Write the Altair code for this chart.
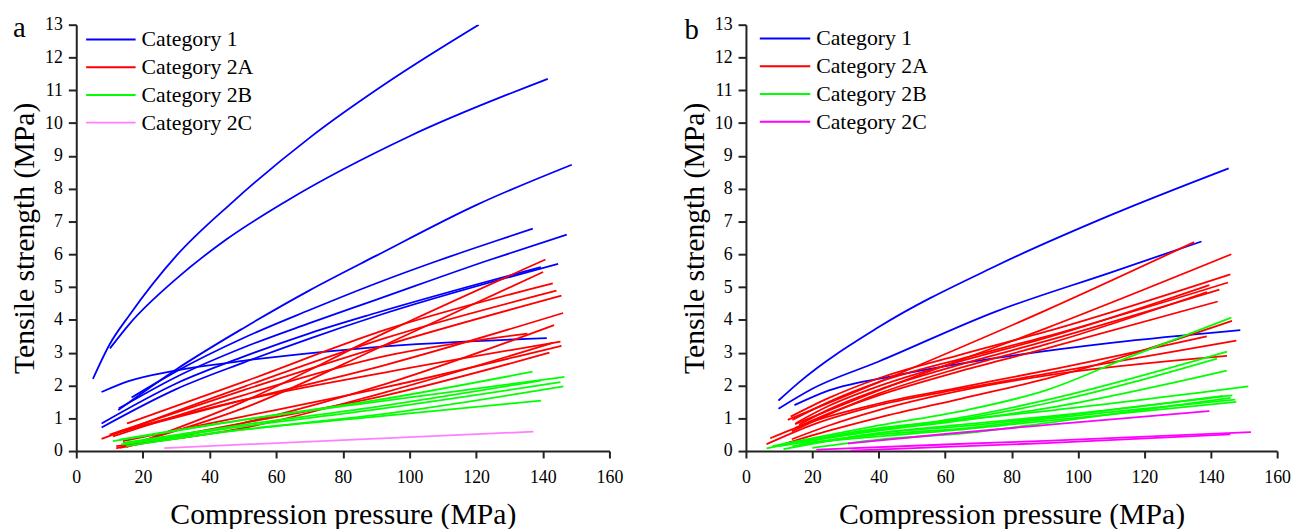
import altair as alt
import pandas as pd

FONT = "Liberation Serif"
CATS = ["Category 1", "Category 2A", "Category 2B", "Category 2C"]
COLORS_A = ["#0000FF", "#FF0000", "#00FF00", "#FF80FF"]
COLORS_B = ["#0000FF", "#FF0000", "#00FF00", "#FF00FF"]

X_TICKS = [0, 20, 40, 60, 80, 100, 120, 140, 160]
Y_TICKS = list(range(0, 14))

# ---------------- panel a ----------------
A_CAT1 = [
    [(5, 2.2), (10, 3.25), (16, 4.15), (30, 5.95), (47, 7.6), (70, 9.55), (95, 11.35), (120.8, 13.0)],
    [(10.1, 3.13), (16, 3.88), (30, 5.25), (45, 6.45), (63, 7.62), (100, 9.6), (141.5, 11.35)],
    [(12.6, 1.25), (30, 2.49), (50, 3.74), (70, 4.9), (89.9, 5.95), (120, 7.5), (148.7, 8.73)],
    [(16.6, 1.63), (30, 2.43), (50, 3.44), (70, 4.3), (89.9, 5.11), (108.7, 5.81), (126.3, 6.42), (137, 6.78)],
    [(12.8, 1.3), (30, 2.26), (50, 3.15), (70, 3.9), (89.9, 4.61), (123.5, 5.81), (147.2, 6.6)],
    [(7.6, 0.84), (30, 2.06), (50, 2.87), (70, 3.59), (89.9, 4.21), (139.4, 5.61)],
    [(7.6, 0.72), (30, 1.89), (50, 2.69), (70, 3.43), (89.9, 4.11), (144.6, 5.71)],
    [(7.6, 1.8), (15.7, 2.13), (29.6, 2.45), (50, 2.75), (76.5, 3.05), (89.9, 3.17), (141.2, 3.44)],
]
A_CAT2A = [
    [(15.2, 0.84), (50, 2.1), (92.9, 3.70), (143, 5.11)],
    [(7.6, 0.37), (50, 1.95), (92.9, 3.45), (144.1, 4.89)],
    [(10, 0.5), (50, 1.85), (92.9, 3.23), (145.6, 4.74)],
    [(15, 0.12), (50, 1.5), (92.9, 3.62), (140.8, 5.84)],
    [(12, 0.08), (50, 1.3), (92.9, 3.25), (140.1, 5.46)],
    [(12, 0.55), (50, 1.55), (92.9, 2.63), (146.1, 4.21)],
    [(13, 0.1), (50, 0.85), (92.9, 2.05), (143.4, 3.84)],
    [(11, 0.45), (50, 1.7), (92.9, 2.90), (135.4, 3.58)],
    [(13, 0.6), (50, 1.55), (92.9, 2.40), (145.3, 3.34)],
    [(12, 0.15), (50, 0.7), (92.9, 1.80), (143, 3.3)],
    [(14, 0.3), (50, 1.05), (92.9, 1.95), (145.6, 3.21)],
    [(16, 0.2), (50, 0.85), (92.9, 1.70), (142, 3.0)],
]
A_CAT2B = [
    [(11, 0.3), (50, 0.95), (90, 1.55), (136.9, 2.42)],
    [(13, 0.35), (50, 0.95), (90, 1.5), (146.5, 2.26)],
    [(14, 0.25), (50, 0.8), (90, 1.35), (139.4, 2.15)],
    [(13.5, 0.2), (50, 0.75), (90, 1.27), (145.3, 2.10)],
    [(15, 0.15), (50, 0.65), (90, 1.1), (146.2, 1.97)],
    [(14, 0.2), (50, 0.65), (90, 1.05), (139.5, 1.54)],
]
A_CAT2C = [
    [(26.4, 0.09), (90, 0.38), (137.2, 0.59)],
]

# ---------------- panel b ----------------
B_CAT1 = [
    [(9.8, 1.54), (15.8, 2.08), (40, 3.78), (75.4, 5.65), (110, 7.2), (145.4, 8.62)],
    [(9.8, 1.29), (20, 1.9), (40, 2.73), (75.4, 4.26), (110, 5.45), (137.2, 6.39)],
    [(14.6, 1.40), (25, 1.85), (45, 2.3), (75, 2.83), (110, 3.3), (148.9, 3.69)],
]
B_CAT2A = [
    [(12.6, 0.95), (40, 2.1), (90.3, 4.29), (135, 6.37)],
    [(14.8, 0.82), (40, 1.85), (90.3, 3.74), (146.2, 6.0)],
    [(13.5, 1.05), (25, 1.62), (40, 2.22), (65, 2.95), (90.3, 3.64), (145.9, 5.39)],
    [(14, 0.95), (25, 1.5), (40, 2.1), (65, 2.82), (90.3, 3.49), (145.2, 5.14)],
    [(15, 0.85), (25, 1.38), (40, 1.98), (65, 2.75), (90.3, 3.45), (139.6, 5.06)],
    [(16, 0.8), (25, 1.27), (40, 1.87), (65, 2.65), (90.3, 3.35), (142.6, 4.92)],
    [(13.8, 0.6), (25, 1.12), (40, 1.75), (65, 2.55), (90.3, 3.25), (138.9, 4.85)],
    [(14.8, 0.7), (25, 1.15), (40, 1.7), (65, 2.45), (90.3, 3.12), (142.1, 4.56)],
    [(9.8, 0.16), (25, 0.62), (40, 1.02), (65, 1.6), (90.3, 2.2), (146.4, 3.97)],
    [(7.3, 0.39), (20, 0.9), (40, 1.45), (65, 1.95), (90.3, 2.45), (138.8, 3.50)],
    [(6.2, 0.21), (20, 0.8), (40, 1.4), (65, 1.9), (90.3, 2.35), (147.7, 3.37)],
    [(13.8, 0.36), (25, 0.78), (40, 1.25), (65, 1.85), (90.3, 2.3), (144.9, 2.90)],
]
B_CAT2B = [
    [(8, 0.15), (15.8, 0.31), (40, 0.78), (66.4, 1.25), (90.3, 1.85), (115, 2.85), (146.2, 4.07)],
    [(10, 0.15), (40, 0.65), (66.4, 1.05), (90.3, 1.55), (144.9, 3.03)],
    [(12, 0.2), (40, 0.65), (66.4, 1.0), (90.3, 1.45), (141.9, 2.82)],
    [(11, 0.2), (40, 0.62), (66.4, 0.95), (90.3, 1.3), (144.8, 2.45)],
    [(6.2, 0.08), (40, 0.7), (66.4, 0.97), (90.3, 1.22), (151.3, 1.97)],
    [(11.3, 0.06), (40, 0.55), (66.4, 0.82), (90.3, 1.05), (146.5, 1.70)],
    [(14, 0.15), (40, 0.55), (66.4, 0.77), (90.3, 1.02), (143.7, 1.68)],
    [(16, 0.2), (40, 0.5), (66.4, 0.7), (90.3, 0.98), (147.4, 1.57)],
    [(18, 0.25), (40, 0.45), (66.4, 0.67), (90.3, 0.92), (147.7, 1.50)],
    [(20, 0.1), (40, 0.35), (66.4, 0.55), (90.3, 0.85), (146, 1.62)],
]
B_CAT2C = [
    [(30.7, 0.23), (60, 0.52), (93.3, 0.82), (139.6, 1.22)],
    [(21.2, 0.04), (60, 0.2), (90.3, 0.31), (152.1, 0.58)],
    [(31.5, 0.01), (60, 0.13), (90.3, 0.24), (145.9, 0.51)],
]


def to_frame(groups):
    rows = []
    for cat, curves in groups:
        for i, curve in enumerate(curves):
            for j, (x, y) in enumerate(curve):
                rows.append({"cat": cat, "cid": f"{cat}-{i}", "x": x, "y": y, "o": j})
    return pd.DataFrame(rows)


def panel(df, colors, letter, legend_range, sym_x, label_x, letter_x, letter_y, w, h):
    color = alt.Color("cat:N", scale=alt.Scale(domain=CATS, range=colors), legend=None)
    lines = alt.Chart(df).mark_line(interpolate="monotone", strokeWidth=1.8, clip=True).encode(
        x=alt.X("x:Q", scale=alt.Scale(domain=[0, 160], nice=False),
                axis=alt.Axis(values=X_TICKS, title="Compression pressure (MPa)", format="d",
                              labelPadding=11, titlePadding=13, labelFlush=False)),
        y=alt.Y("y:Q", scale=alt.Scale(domain=[0, 13], nice=False),
                axis=alt.Axis(values=Y_TICKS, title="Tensile strength (MPa)", format="d",
                              labelPadding=6, titlePadding=5, labelFlush=False)),
        detail="cid:N",
        order="o:Q",
        color=color,
    )
    leg = pd.DataFrame({"cat": CATS})
    ly = alt.Y("cat:N", scale=alt.Scale(type="point", domain=CATS, range=legend_range, padding=0), axis=None)
    rules = alt.Chart(leg).mark_rule(strokeWidth=2).encode(
        x=alt.value(sym_x[0]), x2=alt.value(sym_x[1]), y=ly, color=color)
    texts = alt.Chart(leg).mark_text(align="left", baseline="middle", fontSize=22, font=FONT,
                                     color="black").encode(x=alt.value(label_x), y=ly, text="cat:N")
    let = alt.Chart(pd.DataFrame({"t": [letter]})).mark_text(
        align="left", baseline="alphabetic", fontSize=29, font=FONT, color="black"
    ).encode(x=alt.value(letter_x), y=alt.value(letter_y), text="t:N")
    return alt.layer(lines, rules, texts, let).resolve_scale(y="independent").properties(width=w, height=h)


df_a = to_frame([(CATS[0], A_CAT1), (CATS[1], A_CAT2A), (CATS[2], A_CAT2B), (CATS[3], A_CAT2C)])
df_b = to_frame([(CATS[0], B_CAT1), (CATS[1], B_CAT2A), (CATS[2], B_CAT2B), (CATS[3], B_CAT2C)])

pa = panel(df_a, COLORS_A, "a", [15, 99], (10, 60), 66, -64, 12, 539, 431)
pb = panel(df_b, COLORS_B, "b", [14, 98], (14, 65), 71, -62, 14, 537, 431)

chart = alt.hconcat(pa, pb, spacing=57).resolve_scale(color="independent").properties(
    padding={"left": 2, "top": 3, "right": 0, "bottom": 5}
).configure_view(stroke=None).configure_axis(
    grid=False,
    domainColor="#222222", domainWidth=2,
    tickColor="#222222", tickWidth=2, tickSize=8,
    labelFont=FONT, labelFontSize=18, labelColor="black",
    titleFont=FONT, titleFontSize=30, titleFontWeight="normal", titleColor="black",
).configure_axisX(tickSize=7)

chart.save("out.html", embed_options={"renderer": "svg", "actions": False})
